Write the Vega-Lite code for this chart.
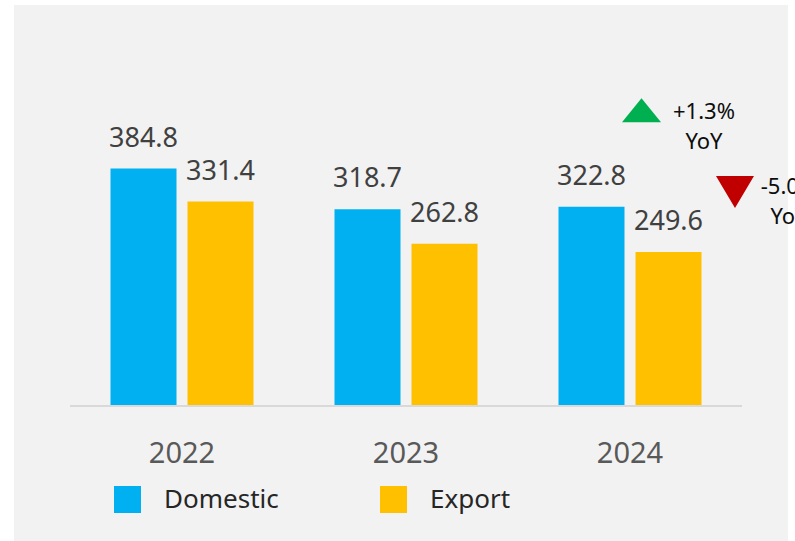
{
  "$schema": "https://vega.github.io/schema/vega-lite/v6.json",
  "width": 774,
  "height": 536,
  "autosize": "none",
  "padding": {"left": 14, "top": 5, "right": 7, "bottom": 0},
  "background": "#ffffff",
  "config": {"view": {"fill": "#f2f2f2", "stroke": null}, "font": "Noto Sans"},
  "datasets": {
    "sales": [
      {"year": "2022", "series": "Domestic", "value": 384.8},
      {"year": "2022", "series": "Export", "value": 331.4},
      {"year": "2023", "series": "Domestic", "value": 318.7},
      {"year": "2023", "series": "Export", "value": 262.8},
      {"year": "2024", "series": "Domestic", "value": 322.8},
      {"year": "2024", "series": "Export", "value": 249.6}
    ],
    "yoy": [
      {"series": "Domestic", "label": "+1.3%\nYoY"},
      {"series": "Export", "label": "-5.0%\nYoY"}
    ]
  },
  "layer": [
    {
      "data": {"name": "sales"},
      "mark": {"type": "bar"},
      "encoding": {
        "x": {
          "field": "year", "type": "nominal",
          "scale": {"paddingInner": 0, "paddingOuter": 0.2277, "align": 0.549},
          "axis": {"title": null, "orient": "bottom", "offset": -135, "domain": false, "ticks": false, "tickSize": 0, "grid": false, "labelAngle": 0, "labelFontSize": 29, "labelColor": "#595959", "labelBaseline": "alphabetic", "labelPadding": 56, "labelFont": "Noto Sans"}
        },
        "xOffset": {"field": "series", "type": "nominal", "scale": {"paddingInner": 0.1429, "paddingOuter": 0.526}},
        "y": {"field": "value", "type": "quantitative", "scale": {"domain": [-218.8, 649.9], "nice": false, "zero": false}, "axis": null},
        "y2": {"datum": 0},
        "color": {
          "field": "series", "type": "nominal",
          "scale": {"domain": ["Domestic", "Export"], "range": ["#00b0f0", "#ffc000"]},
          "legend": {"title": null, "orient": "none", "legendX": 100, "legendY": 481, "direction": "horizontal", "symbolType": "square", "symbolSize": 729, "symbolStrokeWidth": 0, "symbolOpacity": 1, "labelFontSize": 26, "labelColor": "#262626", "labelOffset": 23, "labelBaseline": "middle", "labelLimit": 0, "columnPadding": 101, "padding": 0, "labelFont": "Noto Sans"}
        }
      }
    },
    {
      "data": {"name": "sales"},
      "mark": {"type": "text", "baseline": "alphabetic", "align": "center", "dy": -22, "fontSize": 27, "color": "#404040"},
      "encoding": {
        "x": {"field": "year", "type": "nominal"},
        "xOffset": {"field": "series", "type": "nominal"},
        "y": {"field": "value", "type": "quantitative"},
        "text": {"field": "value", "type": "quantitative", "format": ".1f"}
      }
    },
    {
      "data": {"values": [{}]},
      "mark": {"type": "rule", "color": "#d9d9d9", "strokeWidth": 2},
      "encoding": {
        "x": {"datum": "2022", "type": "nominal", "bandPosition": 0},
        "x2": {"datum": "2024", "bandPosition": 1},
        "y": {"datum": 0, "type": "quantitative"}
      }
    },
    {
      "data": {"name": "yoy"},
      "transform": [{"filter": "datum.series === 'Domestic'"}],
      "mark": {"type": "point", "shape": "M0,-0.615L1,0.615L-1,0.615Z", "filled": true, "size": 1521, "color": "#00b050", "opacity": 1, "strokeWidth": 0, "xOffset": 11.5},
      "encoding": {
        "x": {"datum": "2024", "type": "nominal"},
        "y": {"datum": 479.3, "type": "quantitative"}
      }
    },
    {
      "data": {"name": "yoy"},
      "transform": [{"filter": "datum.series === 'Export'"}],
      "mark": {"type": "point", "shape": "M-1,-0.84L1,-0.84L0,0.84Z", "filled": true, "size": 1444, "color": "#c00000", "opacity": 1, "strokeWidth": 0, "xOffset": 105},
      "encoding": {
        "x": {"datum": "2024", "type": "nominal"},
        "y": {"datum": 346.8, "type": "quantitative"}
      }
    },
    {
      "data": {"name": "yoy"},
      "transform": [{"filter": "datum.series === 'Domestic'"}],
      "mark": {"type": "text", "align": "center", "baseline": "middle", "lineBreak": "\n", "lineHeight": 30, "fontSize": 22, "color": "#0d0d0d", "xOffset": 74},
      "encoding": {
        "x": {"datum": "2024", "type": "nominal"},
        "y": {"datum": 476.5, "type": "quantitative"},
        "text": {"field": "label", "type": "nominal"}
      }
    },
    {
      "data": {"name": "yoy"},
      "transform": [{"filter": "datum.series === 'Export'"}],
      "mark": {"type": "text", "align": "center", "baseline": "middle", "lineBreak": "\n", "lineHeight": 30, "fontSize": 22, "color": "#0d0d0d", "xOffset": 159},
      "encoding": {
        "x": {"datum": "2024", "type": "nominal"},
        "y": {"datum": 354.9, "type": "quantitative"},
        "text": {"field": "label", "type": "nominal"}
      }
    }
  ]
}
